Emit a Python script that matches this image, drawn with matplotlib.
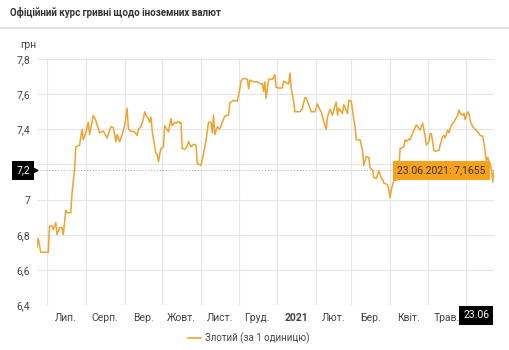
import numpy as np
import matplotlib
import matplotlib.pyplot as plt
import matplotlib.dates as mdates
import matplotlib.transforms as mtransforms

matplotlib.rcParams.update({"font.family": ["Roboto", "DejaVu Sans"], "font.size": 7.5})

dates = [
    "2020-06-23", "2020-06-24", "2020-06-26", "2020-07-02", "2020-07-03", "2020-07-05",
    "2020-07-06", "2020-07-08", "2020-07-09", "2020-07-11", "2020-07-13", "2020-07-14",
    "2020-07-16", "2020-07-17", "2020-07-20", "2020-07-21", "2020-07-23", "2020-07-24",
    "2020-07-27", "2020-07-29", "2020-07-30", "2020-08-01", "2020-08-03", "2020-08-04",
    "2020-08-07", "2020-08-09", "2020-08-12", "2020-08-15", "2020-08-18", "2020-08-21",
    "2020-08-23", "2020-08-25", "2020-08-26", "2020-08-28", "2020-08-30", "2020-09-01",
    "2020-09-03", "2020-09-04", "2020-09-06", "2020-09-09", "2020-09-11", "2020-09-12",
    "2020-09-14", "2020-09-16", "2020-09-17", "2020-09-18", "2020-09-20", "2020-09-21",
    "2020-09-22", "2020-09-23", "2020-09-25", "2020-09-26", "2020-09-27", "2020-09-28",
    "2020-09-29", "2020-09-30", "2020-10-02", "2020-10-03", "2020-10-04", "2020-10-06",
    "2020-10-08", "2020-10-09", "2020-10-11", "2020-10-12", "2020-10-14", "2020-10-15",
    "2020-10-16", "2020-10-17", "2020-10-19", "2020-10-21", "2020-10-22", "2020-10-24",
    "2020-10-26", "2020-10-28", "2020-10-29", "2020-11-01", "2020-11-03", "2020-11-05",
    "2020-11-07", "2020-11-09", "2020-11-10", "2020-11-11", "2020-11-12", "2020-11-14",
    "2020-11-16", "2020-11-18", "2020-11-20", "2020-11-23", "2020-11-24", "2020-11-27",
    "2020-11-30", "2020-12-02", "2020-12-03", "2020-12-05", "2020-12-08", "2020-12-09",
    "2020-12-10", "2020-12-13", "2020-12-16", "2020-12-18", "2020-12-20", "2020-12-21",
    "2020-12-22", "2020-12-23", "2020-12-25", "2020-12-28", "2020-12-30", "2020-12-31",
    "2021-01-02", "2021-01-05", "2021-01-06", "2021-01-09", "2021-01-10", "2021-01-11",
    "2021-01-12", "2021-01-14", "2021-01-15", "2021-01-19", "2021-01-21", "2021-01-23",
    "2021-01-24", "2021-01-26", "2021-01-28", "2021-01-31", "2021-02-02", "2021-02-04",
    "2021-02-05", "2021-02-07", "2021-02-09", "2021-02-10", "2021-02-12", "2021-02-14",
    "2021-02-15", "2021-02-17", "2021-02-18", "2021-02-19", "2021-02-22", "2021-02-23",
    "2021-02-26", "2021-02-27", "2021-03-01", "2021-03-02", "2021-03-03", "2021-03-04",
    "2021-03-05", "2021-03-08", "2021-03-10", "2021-03-11", "2021-03-13", "2021-03-15",
    "2021-03-16", "2021-03-18", "2021-03-19", "2021-03-21", "2021-03-23", "2021-03-25",
    "2021-03-26", "2021-03-27", "2021-03-30", "2021-03-31", "2021-04-01", "2021-04-02",
    "2021-04-04", "2021-04-06", "2021-04-08", "2021-04-09", "2021-04-12", "2021-04-13",
    "2021-04-14", "2021-04-16", "2021-04-17", "2021-04-20", "2021-04-22", "2021-04-25",
    "2021-04-27", "2021-04-29", "2021-04-30", "2021-05-02", "2021-05-03", "2021-05-04",
    "2021-05-06", "2021-05-07", "2021-05-10", "2021-05-11", "2021-05-13", "2021-05-14",
    "2021-05-15", "2021-05-17", "2021-05-18", "2021-05-19", "2021-05-21", "2021-05-22",
    "2021-05-23", "2021-05-25", "2021-05-26", "2021-05-27", "2021-05-29", "2021-05-30",
    "2021-05-31", "2021-06-02", "2021-06-03", "2021-06-04", "2021-06-06", "2021-06-08",
    "2021-06-10", "2021-06-12", "2021-06-14", "2021-06-15", "2021-06-16", "2021-06-17",
    "2021-06-18", "2021-06-20", "2021-06-21", "2021-06-22", "2021-06-23",
]
rate = [
    6.73, 6.78, 6.70, 6.70, 6.85, 6.85,
    6.83, 6.87, 6.80, 6.84, 6.84, 6.80,
    6.94, 6.925, 6.925, 7.04, 7.17, 7.30,
    7.31, 7.40, 7.34, 7.38, 7.44, 7.37,
    7.48, 7.45, 7.38, 7.39, 7.35, 7.415,
    7.41, 7.33, 7.37, 7.33, 7.37, 7.42,
    7.52, 7.40, 7.39, 7.385, 7.365, 7.40,
    7.415, 7.46, 7.50, 7.48, 7.46, 7.44,
    7.47, 7.39, 7.30, 7.26, 7.255, 7.215,
    7.26, 7.29, 7.30, 7.42, 7.41, 7.385,
    7.46, 7.42, 7.44, 7.435, 7.445, 7.435,
    7.44, 7.29, 7.285, 7.305, 7.33, 7.30,
    7.315, 7.31, 7.205, 7.195, 7.26, 7.34,
    7.44, 7.44, 7.38, 7.48, 7.37, 7.415,
    7.40, 7.44, 7.475, 7.48, 7.55, 7.565,
    7.56, 7.63, 7.675, 7.69, 7.685, 7.63,
    7.68, 7.67, 7.67, 7.66, 7.66, 7.615,
    7.67, 7.575, 7.685, 7.685, 7.71, 7.64,
    7.635, 7.635, 7.675, 7.66, 7.66, 7.72,
    7.635, 7.555, 7.50, 7.50, 7.52, 7.58,
    7.58, 7.54, 7.50, 7.50, 7.545, 7.51,
    7.50, 7.445, 7.40, 7.47, 7.515, 7.48,
    7.51, 7.555, 7.48, 7.52, 7.49, 7.54,
    7.49, 7.565, 7.56, 7.51, 7.455, 7.415,
    7.34, 7.34, 7.28, 7.195, 7.245, 7.24,
    7.18, 7.17, 7.125, 7.12, 7.165, 7.12,
    7.115, 7.095, 7.085, 7.055, 7.01, 7.055,
    7.11, 7.11, 7.17, 7.29, 7.30, 7.34,
    7.33, 7.345, 7.34, 7.395, 7.425, 7.395,
    7.435, 7.36, 7.31, 7.33, 7.375, 7.375,
    7.28, 7.275, 7.28, 7.31, 7.36, 7.365,
    7.35, 7.395, 7.38, 7.405, 7.435, 7.44,
    7.455, 7.48, 7.51, 7.49, 7.48, 7.49,
    7.455, 7.50, 7.49, 7.445, 7.415, 7.40,
    7.385, 7.365, 7.36, 7.32, 7.27, 7.215,
    7.24, 7.20, 7.17, 7.10, 7.1655,
]

month_labels = ["Лип.", "Серп.", "Вер.", "Жовт.", "Лист.", "Груд.",
                "2021", "Лют.", "Бер.", "Квіт.", "Трав."]
y_ticks = [6.4, 6.6, 6.8, 7.0, 7.2, 7.4, 7.6, 7.8]
# 7,2 sits under the crosshair badge
y_labels = ["6,4", "6,6", "6,8", "7", "", "7,4", "7,6", "7,8"]

last_value = 7.1655
last_label = "23.06.2021: 7,1655"
series_name = "Злотий (за 1 одиницю)"

x = np.array(dates, dtype="datetime64[D]")
start = np.datetime64("2020-06-23")
end = np.datetime64("2021-06-23")

line_color = "#f0a32f"
grid_color = "#e6e6e6"
text_color = "#444444"

fig = plt.figure(figsize=(5.09, 3.5), dpi=100)
ax = fig.add_axes([37 / 509, 1 - 305 / 350, 457 / 509, 246 / 350])

ax.plot(x, rate, color=line_color, linewidth=1.1, zorder=3)

ax.set_xlim(start, end)
ax.set_ylim(6.4, 7.8)
ax.set_yticks(y_ticks)
ax.set_yticklabels(y_labels)

# month boundaries -> gridlines, mid-month -> labels
ax.xaxis.set_major_locator(mdates.MonthLocator(bymonthday=1))
ax.xaxis.set_major_formatter(plt.NullFormatter())
mid = np.array(["2020-07-16", "2020-08-16", "2020-09-16", "2020-10-16", "2020-11-16",
                "2020-12-16", "2021-01-16", "2021-02-15", "2021-03-16", "2021-04-16",
                "2021-05-16"], dtype="datetime64[D]")
ax.set_xticks(mid, minor=True)
ax.set_xticklabels(month_labels, minor=True)
for lab in ax.get_xticklabels(minor=True):
    if lab.get_text() == "2021":
        lab.set_fontweight("bold")
        lab.set_color("#222222")

ax.tick_params(axis="both", which="both", length=0, colors=text_color, labelsize=7.5)
ax.tick_params(axis="y", pad=5)
ax.tick_params(axis="x", which="minor", pad=6)
ax.grid(True, which="major", color=grid_color, linewidth=0.8)
for s in ax.spines.values():
    s.set_visible(False)

# crosshair
ax.axhline(last_value, color="#aaaaaa", linestyle=(0, (1, 2)), linewidth=0.7, zorder=2)
ax.axvline(end, color="#bbbbbb", linestyle=(0, (1, 2)), linewidth=0.7, zorder=2)

ty = mtransforms.blended_transform_factory(ax.transAxes, ax.transData)
tx = mtransforms.blended_transform_factory(ax.transData, ax.transAxes)

ax.annotate("7,2", xy=(0, last_value), xycoords=ty, xytext=(-10, 0),
            textcoords="offset points", ha="center", va="center", color="white",
            fontsize=7.5, zorder=6, annotation_clip=False,
            bbox=dict(boxstyle="square,pad=0.4", fc="black", ec="none"))
ax.plot([-0.004], [last_value], marker=">", markersize=3.5, color="black",
        transform=ty, clip_on=False, zorder=6)

ax.annotate(last_label, xy=(end, last_value), xycoords="data", xytext=(-6, 0),
            textcoords="offset points", ha="right", va="center", color="#333333",
            fontsize=7.5, zorder=6,
            bbox=dict(boxstyle="square,pad=0.45", fc="#f7a11c", ec="none"))

ax.annotate("23.06", xy=(end, 0), xycoords=tx, xytext=(-3.5, -7.5),
            textcoords="offset points", ha="right", va="center", color="white",
            fontsize=7.5, zorder=6, annotation_clip=False,
            bbox=dict(boxstyle="square,pad=0.4", fc="black", ec="none"))

# header
fig.text(10 / 509, 1 - 13 / 350, "Офіційний курс гривні щодо іноземних валют",
         fontsize=7, fontweight="bold", color="#333333", va="center")
fig.add_artist(plt.Line2D([0, 1], [1 - 28 / 350, 1 - 28 / 350],
                          color="#e3e3e3", linewidth=1.5, transform=fig.transFigure))
fig.text(20 / 509, 1 - 45 / 350, "грн", fontsize=7.5, color=text_color, va="center")

fig.legend([plt.Line2D([], [], color=line_color, linewidth=1.2)], [series_name],
           loc="center", bbox_to_anchor=(249 / 509, 1 - 338 / 350), frameon=False,
           fontsize=7, handlelength=1.3, handletextpad=0.5, labelcolor=text_color)

plt.savefig("out.png", dpi=100)
plt.close()
